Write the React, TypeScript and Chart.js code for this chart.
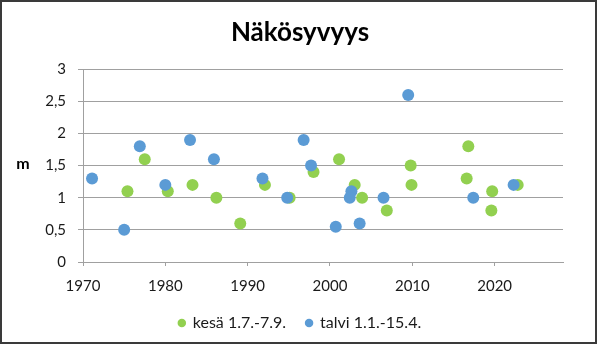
import React, { useEffect, useRef } from "react";
import { Chart, registerables } from "chart.js";

Chart.register(...registerables);

const chartTitle = "Näkösyvyys";
const yAxisLabel = "m";
const kesaLabel = "kesä 1.7.-7.9.";
const talviLabel = "talvi 1.1.-15.4.";

const kesaYears = [1975.4, 1977.5, 1980.3, 1983.3, 1986.2, 1989.1, 1992.1, 1995.1, 1998.0, 2001.1, 2003.0, 2003.9, 2006.9, 2009.8, 2009.9, 2016.8, 2016.6, 2019.7, 2019.6, 2022.8];
const kesaValues = [1.1, 1.6, 1.1, 1.2, 1.0, 0.6, 1.2, 1.0, 1.4, 1.6, 1.2, 1.0, 0.8, 1.5, 1.2, 1.8, 1.3, 1.1, 0.8, 1.2];

const talviYears = [1971.1, 1975.0, 1976.9, 1980.0, 1983.0, 1985.9, 1991.8, 1994.8, 1996.8, 1997.7, 2000.7, 2002.6, 2002.4, 2003.6, 2006.5, 2009.5, 2017.4, 2022.3];
const talviValues = [1.3, 0.5, 1.8, 1.2, 1.9, 1.6, 1.3, 1.0, 1.9, 1.5, 0.55, 1.1, 1.0, 0.6, 1.0, 2.6, 1.0, 1.2];

const xTickValues = [1970, 1980, 1990, 2000, 2010, 2020];
const yTickValues = [0, 0.5, 1, 1.5, 2, 2.5, 3];

const GREEN = "#92D050";
const BLUE = "#5B9BD5";
const GRID = "#a0a0a0";
const TEXT = "#1a1a1a";
const FONT = "Lato";

const framePlugin = {
  id: "frame",
  beforeDraw(chart: any) {
    const ctx = chart.ctx;
    ctx.save();
    ctx.fillStyle = "#ffffff";
    ctx.fillRect(0, 0, chart.width, chart.height);
    ctx.restore();
  },
  afterDraw(chart: any) {
    const ctx = chart.ctx;
    ctx.save();
    ctx.font = `bold 16px ${FONT}`;
    ctx.fillStyle = "#000";
    ctx.textAlign = "center";
    ctx.textBaseline = "middle";
    ctx.fillText(yAxisLabel, 23, 164);
    ctx.strokeStyle = "#3a3a3a";
    ctx.lineWidth = 2;
    ctx.strokeRect(1, 1, 595, 342);
    ctx.restore();
  },
};

export default function App() {
  const ref = useRef<HTMLCanvasElement | null>(null);

  useEffect(() => {
    if (!ref.current) return;
    const chart = new Chart(ref.current, {
      type: "scatter",
      data: {
        datasets: [
          {
            label: kesaLabel,
            data: kesaYears.map((x, i) => ({ x, y: kesaValues[i] })),
            backgroundColor: GREEN,
            borderColor: GREEN,
            borderWidth: 0,
            pointRadius: 6,
            order: 1,
          },
          {
            label: talviLabel,
            data: talviYears.map((x, i) => ({ x, y: talviValues[i] })),
            backgroundColor: BLUE,
            borderColor: BLUE,
            borderWidth: 0,
            pointRadius: 6,
            order: 0,
          },
        ],
      },
      options: {
        responsive: false,
        animation: false,
        layout: { padding: { left: 0, right: 0, top: 0, bottom: 6 } },
        scales: {
          x: {
            type: "linear",
            min: 1970,
            max: 2028.3,
            afterFit: (s: any) => {
              s.height = 33;
            },
            afterBuildTicks: (s: any) => {
              s.ticks = xTickValues.map((v) => ({ value: v }));
            },
            ticks: {
              includeBounds: false,
              stepSize: 10,
              padding: 11,
              color: TEXT,
              font: { family: FONT, size: 15 },
              callback: (v: any) => String(v),
            },
            grid: {
              drawOnChartArea: false,
              drawTicks: true,
              tickLength: 4,
              color: GRID,
            },
            border: { display: true, color: GRID, width: 1 },
          },
          y: {
            type: "linear",
            min: 0,
            max: 3,
            afterFit: (s: any) => {
              s.width = 83;
            },
            afterBuildTicks: (s: any) => {
              s.ticks = yTickValues.map((v) => ({ value: v }));
            },
            ticks: {
              stepSize: 0.5,
              padding: 12,
              color: TEXT,
              font: { family: FONT, size: 15 },
              callback: (v: any) => String(v).replace(".", ","),
            },
            grid: {
              color: GRID,
              drawTicks: true,
              tickLength: 5,
            },
            border: { display: true, color: GRID, width: 1 },
          },
          yRight: {
            type: "linear",
            position: "right",
            display: true,
            afterFit: (s: any) => {
              s.width = 37;
            },
            ticks: { display: false },
            grid: { display: false, drawTicks: false },
            border: { display: false },
          },
        },
        plugins: {
          title: {
            display: true,
            text: chartTitle,
            color: "#000",
            font: { family: FONT, size: 26, weight: "bold" },
            padding: { top: 17, bottom: 21 },
          },
          legend: {
            display: true,
            position: "bottom",
            labels: {
              usePointStyle: true,
              pointStyle: "circle",
              boxWidth: 6,
              boxHeight: 6,
              padding: 20,
              color: TEXT,
              font: { family: FONT, size: 16 },
              sort: (a: any, b: any) => a.datasetIndex - b.datasetIndex,
            },
          },
          tooltip: { enabled: false },
        },
      },
      plugins: [framePlugin],
    } as any);
    return () => chart.destroy();
  }, []);

  return (
    <div style={{ position: "absolute", left: 0, top: 0, width: 600, height: 347 }}>
      <canvas ref={ref} width={600} height={347} />
    </div>
  );
}
